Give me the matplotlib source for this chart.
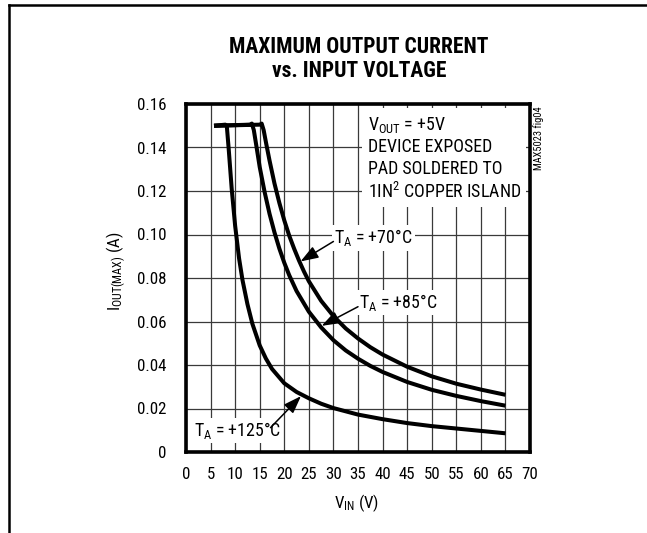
import matplotlib
matplotlib.use("Agg")
import matplotlib.pyplot as plt
from matplotlib import font_manager as fm
from matplotlib.lines import Line2D

# ---------------- data ----------------
v_70 = [5.7, 15.0, 15.4, 15.8, 16.3, 17, 18, 19, 20, 21, 22, 23, 24, 25, 27.5, 30, 32.5, 35, 37.5,
        40, 45, 50, 55, 60, 65]
i_70 = [0.150, 0.1505, 0.151, 0.148, 0.142, 0.134, 0.1235, 0.1145, 0.1065, 0.0995, 0.0935, 0.0880,
        0.0830, 0.0785, 0.0695, 0.0625, 0.0568, 0.0522, 0.0482, 0.0448, 0.0392, 0.0348, 0.0314,
        0.0287, 0.0263]

v_85 = [5.7, 13.0, 13.4, 13.8, 14.3, 15, 16, 17, 18, 19, 20, 21, 22.5, 25, 27.5, 30, 32.5, 35, 37.5,
        40, 45, 50, 55, 60, 65]
i_85 = [0.150, 0.1505, 0.151, 0.148, 0.141, 0.131, 0.1195, 0.1095, 0.1010, 0.0935, 0.0870, 0.0813,
        0.0740, 0.0645, 0.0573, 0.0514, 0.0467, 0.0429, 0.0396, 0.0368, 0.0322, 0.0286, 0.0258,
        0.0234, 0.0213]

v_125 = [5.7, 8.0, 8.3, 8.7, 9.3, 10.0, 10.8, 11.5, 12.5, 13.5, 15, 16.25, 17.5, 20, 22.5, 25, 27.5,
         30, 35, 40, 45, 50, 55, 60, 65]
i_125 = [0.150, 0.1505, 0.150, 0.139, 0.121, 0.104, 0.089, 0.079, 0.068, 0.059, 0.049, 0.0430,
         0.0382, 0.0316, 0.0276, 0.0247, 0.0222, 0.0202, 0.0172, 0.0151, 0.0133, 0.0119, 0.0108,
         0.0097, 0.0086]

x_ticks = [0, 5, 10, 15, 20, 25, 30, 35, 40, 45, 50, 55, 60, 65, 70]
y_ticks = [0, 0.02, 0.04, 0.06, 0.08, 0.10, 0.12, 0.14, 0.16]
y_tick_labels = ["0", "0.02", "0.04", "0.06", "0.08", "0.10", "0.12", "0.14", "0.16"]

title_lines = ["MAXIMUM OUTPUT CURRENT", "vs. INPUT VOLTAGE"]
curve_labels = [r"T$_{\mathrm{A}}$ = +70°C", r"T$_{\mathrm{A}}$ = +85°C", r"T$_{\mathrm{A}}$ = +125°C"]
note_text = ("V$_{\\mathrm{OUT}}$ = +5V\nDEVICE EXPOSED\nPAD SOLDERED TO\n"
             "1IN$^{\\mathrm{2}}$ COPPER ISLAND")
fig_id = "MAX5023 fig04"

# ---------------- fonts ----------------
avail = {f.name for f in fm.fontManager.ttflist}
FONT = next((f for f in ["Liberation Sans Narrow", "Roboto Condensed", "Liberation Sans"] if f in avail),
            "DejaVu Sans")
plt.rcParams["font.family"] = [FONT, "DejaVu Sans"]
plt.rcParams["mathtext.fontset"] = "custom"
plt.rcParams["mathtext.rm"] = FONT
plt.rcParams["mathtext.it"] = FONT
plt.rcParams["mathtext.bf"] = FONT + ":bold"

FS = 12.2
FS_NOTE = 12.9

fig = plt.figure(figsize=(6.47, 5.33), dpi=100)
ax = fig.add_axes([186 / 647, 1 - 452 / 533, 344 / 647, 348 / 533])

ax.set_xlim(0, 70)
ax.set_ylim(0, 0.16)
ax.set_xticks(x_ticks)
ax.set_yticks(y_ticks)
ax.set_yticklabels(y_tick_labels)
ax.tick_params(axis="both", length=0, labelsize=FS)
ax.tick_params(axis="y", pad=14)
ax.tick_params(axis="x", pad=10.5)
ax.grid(True, color="#3a3a3a", lw=0.9, zorder=1)
ax.set_axisbelow(True)
for s in ax.spines.values():
    s.set_linewidth(2.6)
    s.set_zorder(6)

for v, i in [(v_70, i_70), (v_85, i_85), (v_125, i_125)]:
    ax.plot(v, i, color="black", lw=2.9, solid_capstyle="butt", solid_joinstyle="round", zorder=4)

box = dict(boxstyle="square,pad=0.12", fc="white", ec="none")
ax.text(30.2, 0.0984, curve_labels[0], fontsize=FS_NOTE, ha="left", va="center", bbox=box, zorder=3)
ax.text(35.2, 0.0687, curve_labels[1], fontsize=FS_NOTE, ha="left", va="center", bbox=box, zorder=3)
ax.text(1.6, 0.0098, curve_labels[2], fontsize=FS_NOTE, ha="left", va="center", bbox=box, zorder=3)

arrow = dict(arrowstyle="-|>,head_length=0.9,head_width=0.32", mutation_scale=12,
             color="black", lw=1.1, shrinkA=0, shrinkB=0)
ax.annotate("", xy=(23.3, 0.0876), xytext=(30.0, 0.0968), arrowprops=arrow, zorder=5)
ax.annotate("", xy=(27.6, 0.0580), xytext=(35.0, 0.0668), arrowprops=arrow, zorder=5)
ax.annotate("", xy=(23.4, 0.0257), xytext=(17.2, 0.0112), arrowprops=arrow, zorder=5)

ax.text(37.0, 0.1550, note_text, fontsize=FS_NOTE, ha="left", va="top", linespacing=1.24,
        bbox=dict(boxstyle="square,pad=0.3", fc="white", ec="none"), zorder=3)

ax.set_xlabel(r"V$_{\mathrm{IN}}$ (V)", fontsize=FS, va="center")
ax.xaxis.set_label_coords(0.497, -0.146)
ax.set_ylabel(r"I$_{\mathrm{OUT(MAX)}}$ (A)", fontsize=FS, va="center")
ax.yaxis.set_label_coords(-0.2035, 0.52)

fig.text(359 / 647, 1 - 47 / 533, title_lines[0], fontsize=15.5, fontweight="bold", ha="center", va="center")
fig.text(359 / 647, 1 - 71 / 533, title_lines[1], fontsize=15.5, fontweight="bold", ha="center", va="center")
fig.text(539 / 647, 1 - 138.5 / 533, fig_id, fontsize=7.5, rotation=90, ha="center", va="center")

# outer frame (top and left edges)
fig.add_artist(Line2D([9 / 647, 1], [1 - 5 / 533, 1 - 5 / 533], transform=fig.transFigure,
                      color="black", lw=1.8))
fig.add_artist(Line2D([9 / 647, 9 / 647], [0, 1 - 5 / 533], transform=fig.transFigure,
                      color="black", lw=1.8))

fig.savefig("out.png", dpi=100, facecolor="white")
